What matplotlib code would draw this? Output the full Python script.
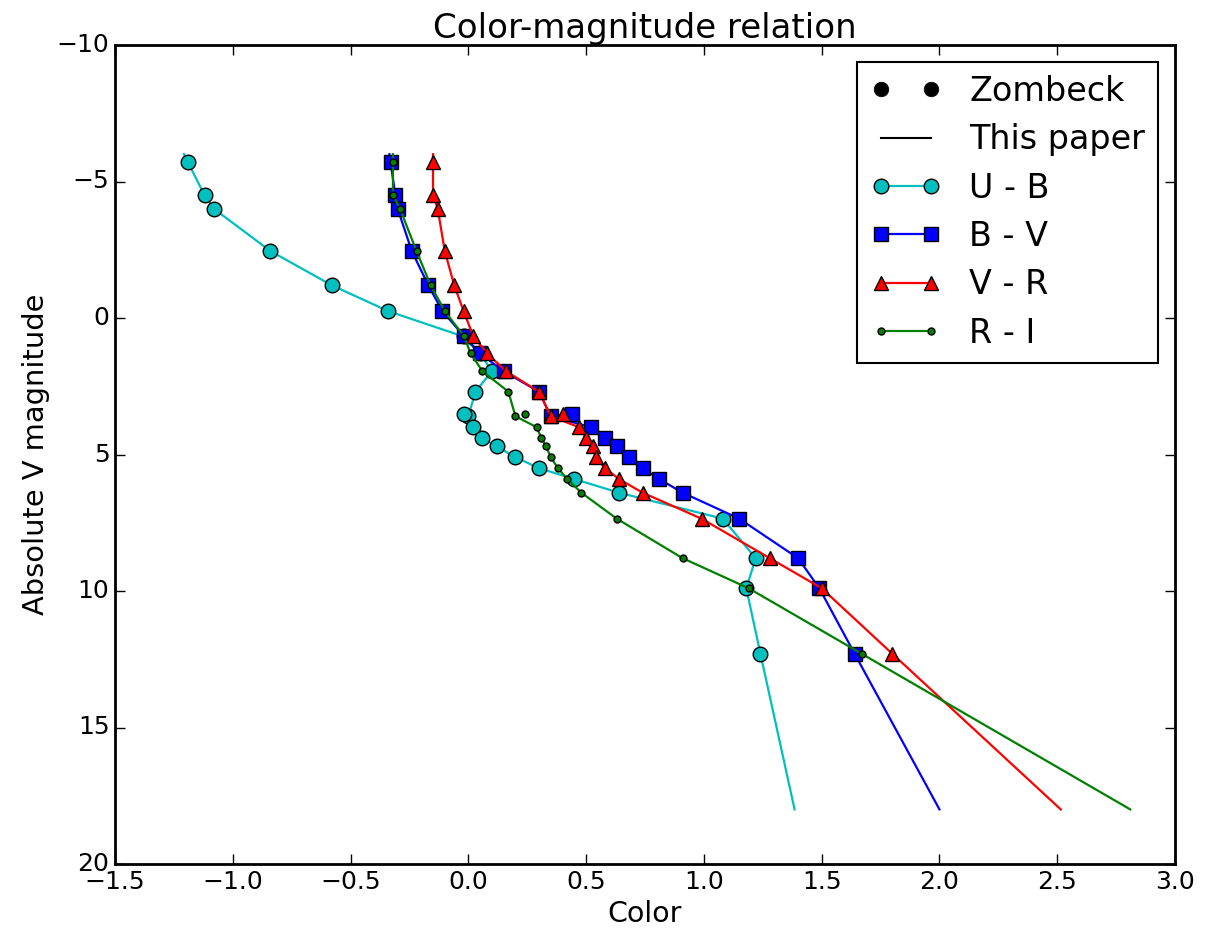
import matplotlib
matplotlib.use("Agg")
import matplotlib.pyplot as plt
from matplotlib.lines import Line2D

plt.style.use("classic")
plt.rcParams['font.family'] = ['DejaVu Sans']

# Zombeck main-sequence table (O5 ... M5)
mag = [-5.7, -4.5, -4.0, -2.45, -1.2, -0.25, 0.65, 1.3, 1.95, 2.7, 3.6, 3.5,
       4.0, 4.4, 4.7, 5.1, 5.5, 5.9, 6.4, 7.35, 8.8, 9.9, 12.3]
ub = [-1.19, -1.12, -1.08, -0.84, -0.58, -0.34, -0.02, 0.05, 0.10, 0.03, 0.00, -0.02,
      0.02, 0.06, 0.12, 0.20, 0.30, 0.45, 0.64, 1.08, 1.22, 1.18, 1.24]
bv = [-0.33, -0.31, -0.30, -0.24, -0.17, -0.11, -0.02, 0.05, 0.15, 0.30, 0.35, 0.44,
      0.52, 0.58, 0.63, 0.68, 0.74, 0.81, 0.91, 1.15, 1.40, 1.49, 1.64]
vr = [-0.15, -0.15, -0.13, -0.10, -0.06, -0.02, 0.02, 0.08, 0.16, 0.30, 0.35, 0.40,
      0.47, 0.50, 0.53, 0.54, 0.58, 0.64, 0.74, 0.99, 1.28, 1.50, 1.80]
ri = [-0.32, -0.32, -0.29, -0.22, -0.16, -0.10, -0.02, 0.01, 0.06, 0.17, 0.20, 0.24,
      0.29, 0.31, 0.33, 0.35, 0.38, 0.42, 0.48, 0.63, 0.91, 1.19, 1.67]

# "This paper" relations
mag_line = [-6.0, -5.7, -4.5, -4.0, -2.45, -1.2, -0.25, 0.65, 1.3, 1.95, 2.7, 3.6,
            4.0, 4.4, 4.7, 5.1, 5.5, 5.9, 6.4, 7.35, 8.8, 9.9, 12.3, 18.0]
ub_line = [-1.207, -1.19, -1.12, -1.08, -0.84, -0.58, -0.34, -0.03, 0.05, 0.10, 0.03, 0.00,
           0.02, 0.06, 0.12, 0.20, 0.30, 0.45, 0.64, 1.08, 1.22, 1.18, 1.24, 1.385]
bv_line = [-0.335, -0.33, -0.31, -0.30, -0.24, -0.17, -0.11, -0.02, 0.05, 0.15, 0.30, 0.35,
           0.52, 0.58, 0.63, 0.68, 0.74, 0.81, 0.91, 1.15, 1.40, 1.49, 1.64, 2.0]
vr_line = [-0.15, -0.15, -0.15, -0.13, -0.10, -0.06, -0.02, 0.02, 0.08, 0.16, 0.30, 0.35,
           0.47, 0.50, 0.53, 0.54, 0.58, 0.64, 0.74, 0.99, 1.28, 1.50, 1.80, 2.515]
ri_line = [-0.32, -0.32, -0.32, -0.29, -0.22, -0.16, -0.10, -0.02, 0.01, 0.06, 0.17, 0.20,
           0.29, 0.31, 0.33, 0.35, 0.38, 0.42, 0.48, 0.63, 0.91, 1.19, 1.67, 2.81]

labels = ["U - B", "B - V", "V - R", "R - I"]
colors = ["#00BFBF", "#0000FF", "#FF0000", "#008000"]
markers = ["o", "s", "^", "o"]
msizes = [10.5, 10.5, 10.5, 5]

fig = plt.figure(figsize=(12.1, 9.34), dpi=100, facecolor="white")
ax = fig.add_axes([115/1210, 1-864/934, 1060/1210, 819/934])

series = [(ub, ub_line), (bv, bv_line), (vr, vr_line), (ri, ri_line)]
handles = [Line2D([], [], color="k", marker="o", linestyle="none", markersize=10.5),
           Line2D([], [], color="k", linestyle="-", linewidth=1.5)]
for (pts, ln), c, m, ms, lab in zip(series, colors, markers, msizes, labels):
    ax.plot(ln, mag_line, "-", color=c, linewidth=1.6)
    ax.plot(pts, mag, linestyle="none", marker=m, markersize=ms, markerfacecolor=c,
            markeredgecolor="k", markeredgewidth=1.0)
    handles.append(Line2D([], [], color=c, linewidth=1.6, marker=m, markersize=ms,
                          markerfacecolor=c, markeredgecolor="k", markeredgewidth=1.0))

ax.set_xlim(-1.5, 3.0)
ax.set_ylim(20, -10)
ax.set_title("Color-magnitude relation", fontsize=24.5)
ax.set_xlabel("Color", fontsize=20.5)
ax.set_ylabel("Absolute V magnitude", fontsize=20.8)
ax.tick_params(labelsize=18, length=7, width=1, direction="in", top=True, right=True)
for s in ax.spines.values():
    s.set_linewidth(2)

leg = ax.legend(handles, ["Zombeck", "This paper"] + labels, loc="upper right",
                numpoints=2, fontsize=24, handlelength=2.1, handletextpad=0.85,
                labelspacing=0.46, borderaxespad=0.5, borderpad=0.4, fancybox=False)
leg.get_frame().set_edgecolor("k")
leg.get_frame().set_linewidth(1.5)

fig.savefig("out.png", dpi=100, facecolor="white")
